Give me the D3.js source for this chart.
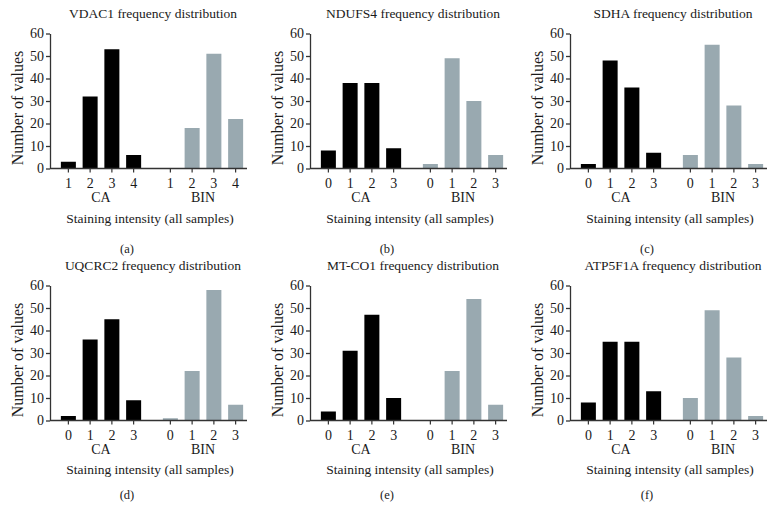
<!DOCTYPE html>
<html>
<head>
<meta charset="utf-8">
<script src="https://cdn.jsdelivr.net/npm/d3@7"></script>
<style>
  html, body { margin: 0; padding: 0; background: #fff; }
  svg { display: block; }
  text { font-family: "Liberation Serif", "Times New Roman", serif; fill: #1a1a1a; }
</style>
</head>
<body>
<svg id="chart" width="784" height="521"></svg>
<script>
// ---- data ----
const titles = [
  "VDAC1 frequency distribution",
  "NDUFS4 frequency distribution",
  "SDHA frequency distribution",
  "UQCRC2 frequency distribution",
  "MT-CO1 frequency distribution",
  "ATP5F1A frequency distribution"
];
const panelLetters = ["(a)", "(b)", "(c)", "(d)", "(e)", "(f)"];
const groups = ["CA", "BIN"];
const intensityLabels = [
  ["1", "2", "3", "4"],
  ["0", "1", "2", "3"],
  ["0", "1", "2", "3"],
  ["0", "1", "2", "3"],
  ["0", "1", "2", "3"],
  ["0", "1", "2", "3"]
];
const caValues = [
  [3, 32, 53, 6],
  [8, 38, 38, 9],
  [2, 48, 36, 7],
  [2, 36, 45, 9],
  [4, 31, 47, 10],
  [8, 35, 35, 13]
];
const binValues = [
  [0, 18, 51, 22],
  [2, 49, 30, 6],
  [6, 55, 28, 2],
  [1, 22, 58, 7],
  [0, 22, 54, 7],
  [10, 49, 28, 2]
];
const yTicks = [0, 10, 20, 30, 40, 50, 60];
const yLabel = "Number of values";
const xLabel = "Staining intensity (all samples)";

// ---- styles / layout ----
const groupColors = { CA: "#000000", BIN: "#99a9b0" };
const axisColor = "#333";
const colStep = 260, rowStep = 252;

const svg = d3.select("#chart");
svg.append("rect").attr("width", 784).attr("height", 521).attr("fill", "#fff");

titles.forEach((title, p) => {
  const col = p % 3, row = Math.floor(p / 3);
  const ox = col * colStep, oy = row * rowStep;
  const g = svg.append("g").attr("transform", `translate(${ox},${oy})`);

  const axX0 = 50, axX1 = 247;
  const y = d3.scaleLinear().domain([0, 60]).range([168.5, 33.5]);
  const outer = d3.scaleBand().domain(groups).range([axX0 + 7.5, axX1 - 0.5]).paddingInner(0.147);
  const inner = d3.scaleBand().domain(d3.range(4)).range([0, outer.bandwidth()])
    .paddingInner(0.31).paddingOuter(0.155);

  const series = { CA: caValues[p], BIN: binValues[p] };

  // bars
  groups.forEach(grp => {
    g.append("g").selectAll("rect")
      .data(series[grp])
      .join("rect")
      .attr("x", (d, i) => outer(grp) + inner(i))
      .attr("width", inner.bandwidth())
      .attr("y", d => y(d))
      .attr("height", d => y(0) - y(d))
      .attr("fill", groupColors[grp]);
  });

  // y axis
  const yAxis = g.append("g")
    .attr("transform", `translate(${axX0},0)`)
    .call(d3.axisLeft(y).tickValues(yTicks).tickSize(4).tickPadding(2).tickSizeOuter(0));
  yAxis.select(".domain").attr("stroke", axisColor).attr("stroke-width", 1.3);
  yAxis.selectAll(".tick line").attr("stroke", axisColor).attr("stroke-width", 1.3);
  yAxis.selectAll(".tick text")
    .attr("font-family", "Liberation Serif").attr("font-size", 14).attr("fill", "#1a1a1a");

  // x axis line
  g.append("line")
    .attr("x1", axX0).attr("x2", axX1)
    .attr("y1", y(0)).attr("y2", y(0))
    .attr("stroke", axisColor).attr("stroke-width", 1.3);

  // x ticks + labels per group
  groups.forEach(grp => {
    const xg = g.append("g").attr("transform", `translate(${outer(grp)},0)`);
    const cats = intensityLabels[p];
    xg.selectAll("line.xt")
      .data(cats)
      .join("line")
      .attr("class", "xt")
      .attr("x1", (d, i) => inner(i) + inner.bandwidth() / 2)
      .attr("x2", (d, i) => inner(i) + inner.bandwidth() / 2)
      .attr("y1", y(0)).attr("y2", y(0) + 4)
      .attr("stroke", axisColor).attr("stroke-width", 1.2);
    xg.selectAll("text.xl")
      .data(cats)
      .join("text")
      .attr("class", "xl")
      .attr("x", (d, i) => inner(i) + inner.bandwidth() / 2)
      .attr("y", y(0) + 19.5)
      .attr("text-anchor", "middle")
      .attr("font-size", 14)
      .text(d => d);
    g.append("text")
      .attr("x", outer(grp) + outer.bandwidth() / 2)
      .attr("y", y(0) + 33.5)
      .attr("text-anchor", "middle")
      .attr("font-size", 14)
      .text(grp);
  });

  // title
  g.append("text")
    .attr("x", 153).attr("y", 18)
    .attr("text-anchor", "middle")
    .attr("font-size", 13.5)
    .text(title);

  // y label
  g.append("text")
    .attr("transform", `translate(23,${(y(0) + y(60)) / 2 + 7}) rotate(-90)`)
    .attr("text-anchor", "middle")
    .attr("font-size", 16)
    .text(yLabel);

  // x label
  g.append("text")
    .attr("x", 150).attr("y", row === 0 ? 222.5 : 222)
    .attr("text-anchor", "middle")
    .attr("font-size", 13.5)
    .text(xLabel);

  // panel letter
  g.append("text")
    .attr("x", 127).attr("y", row === 0 ? 253 : 246.5)
    .attr("text-anchor", "middle")
    .attr("font-size", 12.5)
    .text(panelLetters[p]);
});
</script>
</body>
</html>
